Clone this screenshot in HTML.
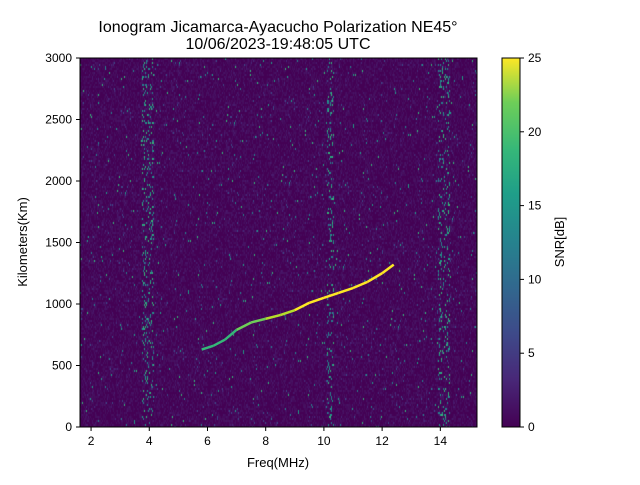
<!DOCTYPE html>
<html><head><meta charset="utf-8"><style>
body{margin:0;background:#fff;width:640px;height:480px;overflow:hidden;font-family:"Liberation Sans","DejaVu Sans",sans-serif}
</style></head><body>
<svg width="640" height="480" xmlns="http://www.w3.org/2000/svg">
<defs><linearGradient id="vir" x1="0" y1="1" x2="0" y2="0">
<stop offset="0" stop-color="#440154"/><stop offset="0.13" stop-color="#482878"/><stop offset="0.25" stop-color="#3e4989"/><stop offset="0.38" stop-color="#31688e"/><stop offset="0.5" stop-color="#26828e"/><stop offset="0.63" stop-color="#1f9e89"/><stop offset="0.75" stop-color="#35b779"/><stop offset="0.88" stop-color="#6ece58"/><stop offset="1" stop-color="#fde725"/></linearGradient></defs>
<text x="278" y="32" font-size="16" text-anchor="middle">Ionogram Jicamarca-Ayacucho Polarization NE45°</text>
<text x="278" y="49" font-size="16" text-anchor="middle">10/06/2023-19:48:05 UTC</text>
<foreignObject x="80" y="58" width="397" height="369"><canvas id="cv" width="397" height="369" xmlns="http://www.w3.org/1999/xhtml"></canvas></foreignObject>
<g id="trace"></g>
<rect x="80" y="58" width="397" height="369" fill="none" stroke="#000" stroke-width="1"/>
<g id="xt"></g>
<g id="yt"></g>
<text x="278" y="467" font-size="13" text-anchor="middle">Freq(MHz)</text>
<text transform="translate(27,242) rotate(-90)" font-size="13" text-anchor="middle">Kilometers(Km)</text>
<rect x="502" y="58" width="18" height="369" fill="url(#vir)" stroke="#000" stroke-width="1"/>
<g id="ct"></g>
<text transform="translate(564,242) rotate(-90)" font-size="13" text-anchor="middle">SNR[dB]</text>
</svg>
<script>
const xTicks=[2,4,6,8,10,12,14];
const yTicks=[0,500,1000,1500,2000,2500,3000];
const cTicks=[0,5,10,15,20,25];
const traceFreq=[5.8,6.2,6.6,7.0,7.5,8.0,8.5,9.0,9.5,10.0,10.5,11.0,11.5,12.0,12.4];
const traceKm=[630,660,710,790,850,880,910,950,1010,1050,1090,1130,1180,1250,1320];
const traceSnr=[14,15,16,17,19,21,22,23,24,25,25,25,25,25,25];
const X0=1.62,X1=15.26;
const sx=f=>80+(f-X0)/(X1-X0)*397;
const sy=k=>427-k/3000*369;
const cy=v=>427-v/25*369;
const NS='http://www.w3.org/2000/svg';
function mk(t,a,p){const e=document.createElementNS(NS,t);for(const k in a)e.setAttribute(k,a[k]);p.appendChild(e);return e;}
const xt=document.getElementById('xt'),yt=document.getElementById('yt'),ct=document.getElementById('ct');
xTicks.forEach(v=>{const x=sx(v);
const l=mk('line',{x1:x,x2:x,y1:427,y2:431,stroke:'#000'},xt);


const t=mk('text',{x:x,y:445,'font-size':12,'text-anchor':'middle'},xt);t.textContent=v;

});
yTicks.forEach(v=>{const y=sy(v);
const l=mk('line',{x1:76,x2:80,y1:y,y2:y,stroke:'#000'},yt);


const t=mk('text',{x:72,y:y+4,'font-size':12,'text-anchor':'end'},yt);t.textContent=v;

});
cTicks.forEach(v=>{const y=cy(v);
const l=mk('line',{x1:520,x2:524,y1:y,y2:y,stroke:'#000'},ct);


const t=mk('text',{x:528,y:y+4,'font-size':12},ct);t.textContent=v;

});
// background noise texture
const cv=document.getElementById('cv'),g=cv.getContext('2d');
let s=12345;const rnd=()=>{s=(s*1103515245+12345)&0x7fffffff;return s/0x7fffffff;};
const pal=['#440154','#440154','#450a5c','#46105f','#471365','#481a6c','#482878','#3e4989','#26828e','#1f9e89','#35b779'];
g.fillStyle='#440154';g.fillRect(0,0,397,369);
for(let x=0;x<397;x+=1){const f=X0+x/397*(X1-X0);
const stripe=(Math.abs(f-3.95)<0.2||Math.abs(f-10.2)<0.12||Math.abs(f-14.1)<0.2)?1.15:1;
for(let y=0;y<369;y+=2){let r=Math.min(0.999,rnd()*stripe);let i=r<0.5?0:r<0.72?2:r<0.86?3:r<0.94?4:r<0.975?5:r<0.99?6+Math.floor(rnd()*2):8+Math.floor(rnd()*3);
if(i>10)i=10;g.fillStyle=pal[i];g.fillRect(x,y,1,2);}}
const tr=document.getElementById('trace');
const col=v=>v>=23?'#fde725':v>=20?'#b5de2b':v>=17?'#6ece58':'#35b779';
for(let i=0;i<traceFreq.length-1;i++){
const l=mk('line',{x1:sx(traceFreq[i]),y1:sy(traceKm[i]),x2:sx(traceFreq[i+1]),y2:sy(traceKm[i+1]),stroke:col(traceSnr[i]),'stroke-width':2.5},tr);

}
</script>
</body></html>
